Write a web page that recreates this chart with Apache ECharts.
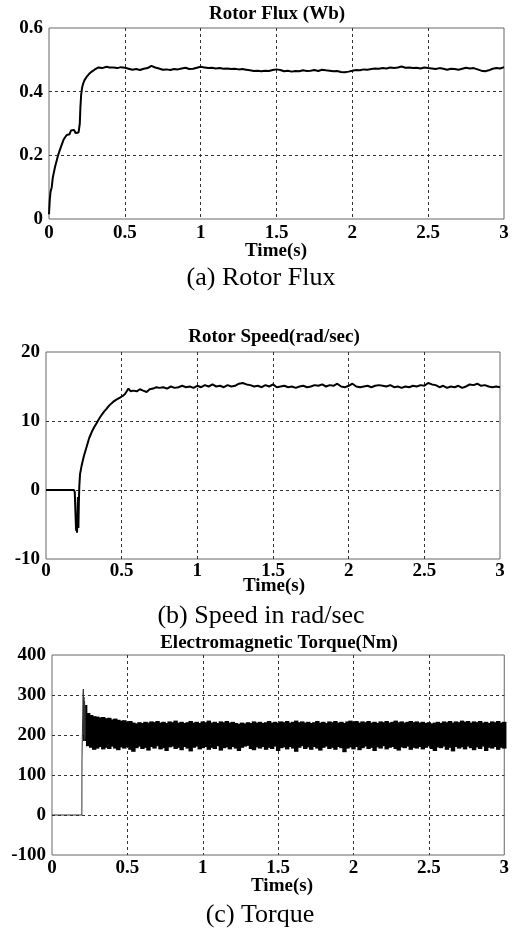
<!DOCTYPE html>
<html>
<head>
<meta charset="utf-8">
<script src="https://cdn.jsdelivr.net/npm/echarts@6/dist/echarts.min.js"></script>
<style>
html,body{margin:0;padding:0;background:#fff;}
#chart{width:512px;height:931px;}
</style>
</head>
<body>
<div id="chart"></div>
<script>
// ---------- DATA ----------
const xTicks = ['0', '0.5', '1', '1.5', '2', '2.5', '3'];

// (a) Rotor flux (Wb)
const fluxT = [0,0.005,0.01,0.018,0.025,0.04,0.05,0.06,0.07,0.08,0.095,0.105,0.117,0.125,0.135,0.145,0.155,0.165,0.175,0.185,0.195,0.2,0.203,0.207,0.212,0.218,0.225,0.235,0.249,0.265,0.282,0.3,0.326,0.35,0.38,0.4,
  0.425,0.45,0.475,0.5,0.525,0.55,0.575,0.6,0.625,0.65,0.675,0.7,0.725,0.75,0.775,0.8,0.825,0.85,0.875,0.9,0.925,0.95,0.975,1.0,
  1.025,1.05,1.075,1.1,1.125,1.15,1.175,1.2,1.225,1.25,1.275,1.3,1.325,1.35,1.375,1.4,1.425,1.45,1.475,1.5,
  1.525,1.55,1.575,1.6,1.625,1.65,1.675,1.7,1.725,1.75,1.775,1.8,1.825,1.85,1.875,1.9,1.925,1.95,1.975,2.0,
  2.025,2.05,2.075,2.1,2.125,2.15,2.175,2.2,2.225,2.25,2.275,2.3,2.325,2.35,2.375,2.4,2.425,2.45,2.475,2.5,
  2.525,2.55,2.575,2.6,2.625,2.65,2.675,2.7,2.725,2.75,2.775,2.8,2.825,2.85,2.875,2.9,2.925,2.95,2.975,3.0];
const fluxV = [0.015,0.06,0.085,0.1,0.13,0.164,0.182,0.2,0.215,0.228,0.248,0.256,0.264,0.27,0.266,0.278,0.274,0.28,0.27,0.268,0.272,0.275,0.3,0.35,0.39,0.412,0.425,0.437,0.447,0.456,0.463,0.469,0.476,0.474,0.478,0.476,
  0.476,0.474,0.477,0.475,0.472,0.469,0.471,0.468,0.472,0.474,0.481,0.476,0.473,0.469,0.47,0.468,0.471,0.47,0.473,0.475,0.471,0.472,0.475,0.478,
  0.476,0.474,0.475,0.473,0.474,0.472,0.473,0.471,0.472,0.47,0.471,0.469,0.467,0.465,0.466,0.464,0.466,0.465,0.468,0.47,
  0.468,0.464,0.466,0.463,0.465,0.464,0.467,0.465,0.466,0.468,0.465,0.469,0.467,0.466,0.464,0.465,0.462,0.461,0.463,0.466,
  0.468,0.467,0.47,0.469,0.471,0.473,0.472,0.474,0.473,0.476,0.474,0.476,0.479,0.475,0.476,0.474,0.475,0.473,0.476,0.474,
  0.473,0.471,0.474,0.472,0.469,0.472,0.471,0.469,0.472,0.475,0.473,0.474,0.47,0.466,0.464,0.467,0.472,0.474,0.473,0.477];

// (b) Rotor speed (rad/sec)
const speedT = [0,0.185,0.19,0.195,0.199,0.202,0.205,0.208,0.211,0.214,0.217,0.22,0.225,0.236,0.25,0.269,0.285,0.302,0.318,0.335,0.35,0.368,0.385,0.401,0.42,0.445,0.465,0.489,0.505,0.522,0.535,0.545,0.56,0.576,0.6,0.62,0.642,0.665,0.685,0.708,0.73,0.75,
  0.775,0.8,0.825,0.85,0.875,0.9,0.925,0.95,0.975,1.0,
  1.025,1.05,1.075,1.1,1.125,1.15,1.175,1.2,1.225,1.25,1.275,1.3,1.325,1.35,1.375,1.4,1.425,1.45,1.475,1.5,
  1.525,1.55,1.575,1.6,1.625,1.65,1.675,1.7,1.725,1.75,1.775,1.8,1.825,1.85,1.875,1.9,1.925,1.95,1.975,2.0,
  2.025,2.05,2.075,2.1,2.125,2.15,2.175,2.2,2.225,2.25,2.275,2.3,2.325,2.35,2.375,2.4,2.425,2.45,2.475,2.5,
  2.525,2.55,2.575,2.6,2.625,2.65,2.675,2.7,2.725,2.75,2.775,2.8,2.825,2.85,2.875,2.9,2.925,2.95,2.975,3.0];
const speedV = [0,0,-0.3,-3.5,-5.9,-4.5,-6.2,-4,-1,-5.5,-2,0.5,2.3,3.6,4.9,6.3,7.5,8.4,9.1,9.7,10.3,10.9,11.4,11.8,12.3,12.8,13.1,13.4,13.6,13.9,14.1,14.7,14.3,14.4,14.3,14.6,14.4,14.2,14.6,14.7,14.9,14.8,
  14.9,14.7,15.0,14.8,14.9,15.1,14.9,15.0,14.8,15.1,
  14.9,15.2,15.0,15.3,15.0,15.1,14.9,15.2,15.0,15.1,15.4,15.5,15.3,15.2,15.0,15.1,14.9,15.2,15.0,15.3,
  14.9,15.0,15.1,14.9,15.0,14.8,15.0,15.1,14.9,15.0,15.2,15.1,15.3,15.0,15.2,15.1,15.4,15.0,14.9,15.1,
  15.4,15.0,14.9,15.0,15.1,14.9,15.1,15.2,15.1,15.0,15.2,14.9,15.0,14.8,15.0,14.9,15.1,15.0,15.2,15.1,
  15.5,15.3,15.2,14.9,15.1,14.8,15.0,14.9,15.1,14.8,15.0,15.3,15.2,15.4,15.1,15.2,15.0,14.9,15.0,14.9];

// (c) Electromagnetic torque (Nm): start-up trace
const torqueStartT = [0,0.198,0.199,0.204,0.206,0.208,0.21,0.212,0.214,0.216,0.218,0.22];
const torqueStartV = [0,0,142,145,300,315,200,295,185,285,190,275];
// (c) ripple band: sample time, lower and upper extreme of the oscillation
const torqueT = [0.22,0.24,0.26,0.28,0.30,0.32,0.34,0.36,0.38,0.40,
  0.42,0.44,0.46,0.48,0.50,0.52,0.54,0.56,0.58,0.60,
  0.62,0.64,0.66,0.68,0.70,0.72,0.74,0.76,0.78,0.80,
  0.82,0.84,0.86,0.88,0.90,0.92,0.94,0.96,0.98,1.00,
  1.02,1.04,1.06,1.08,1.10,1.12,1.14,1.16,1.18,1.20,
  1.22,1.24,1.26,1.28,1.30,1.32,1.34,1.36,1.38,1.40,
  1.42,1.44,1.46,1.48,1.50,1.52,1.54,1.56,1.58,1.60,
  1.62,1.64,1.66,1.68,1.70,1.72,1.74,1.76,1.78,1.80,
  1.82,1.84,1.86,1.88,1.90,1.92,1.94,1.96,1.98,2.00,
  2.02,2.04,2.06,2.08,2.10,2.12,2.14,2.16,2.18,2.20,
  2.22,2.24,2.26,2.28,2.30,2.32,2.34,2.36,2.38,2.40,
  2.42,2.44,2.46,2.48,2.50,2.52,2.54,2.56,2.58,2.60,
  2.62,2.64,2.66,2.68,2.70,2.72,2.74,2.76,2.78,2.80,
  2.82,2.84,2.86,2.88,2.90,2.92,2.94,2.96,2.98,3.00];
const torqueHi = [275,255,250,247,246,244,245,242,243,239,
  241,238,236,237,233,235,231,229,232,230,
  233,231,234,232,235,231,233,230,234,232,
  236,231,233,230,232,235,231,233,230,234,
  232,236,231,233,230,234,232,235,231,233,
  230,228,231,229,232,230,234,231,233,230,
  232,235,231,233,230,234,232,235,231,233,
  236,232,234,231,233,230,232,235,231,233,
  230,234,232,235,231,233,230,234,236,233,
  235,231,234,232,235,231,233,230,234,232,
  235,231,233,236,232,234,231,233,235,232,
  234,231,233,230,232,229,231,233,230,234,
  232,235,231,234,232,236,233,235,231,234,
  232,235,231,233,230,234,232,235,231,233];
const torqueLo = [185,172,168,163,166,170,164,168,165,171,
  166,162,169,166,170,163,158,167,171,165,
  168,161,170,166,172,164,167,160,169,171,
  165,168,162,170,166,159,168,171,164,167,
  170,163,168,165,172,161,167,169,164,170,
  166,160,168,171,173,165,162,169,166,170,
  163,168,165,171,160,167,169,164,170,166,
  158,168,172,165,169,163,170,166,161,168,
  171,165,168,163,170,167,157,166,169,164,
  170,162,167,171,165,168,160,169,166,172,
  164,168,170,165,161,169,167,171,163,168,
  166,170,164,168,172,165,160,169,167,171,
  163,168,159,170,166,169,164,171,167,162,
  169,165,171,160,168,166,170,163,168,166];

const titles = ['Rotor Flux (Wb)', 'Rotor Speed(rad/sec)', 'Electromagnetic Torque(Nm)'];
const captions = ['(a) Rotor Flux', '(b) Speed in rad/sec', '(c) Torque'];
const xName = 'Time(s)';

// ---------- CHART ----------
const zip = (a, b) => a.map((v, i) => [v, b[i]]);
const bandData = torqueT.map((t, i) => [t, torqueLo[i], torqueHi[i]]);

const BOLD = 'bold 19px "Liberation Serif", "Times New Roman", serif';
const CAP = '26px "Liberation Serif", "Times New Roman", serif';

const grids = [
  {left: 49, right: 8, top: 28, height: 191},
  {left: 46, right: 12, top: 352, height: 207},
  {left: 52, right: 5, top: 655, height: 200}
];
const xMargins = [5, 3, 4];
const yRanges = [[0, 0.6, 0.2], [-10, 20, 10], [-100, 400, 100]];

const gridLine = {show: true, showMinLine: false, showMaxLine: false, lineStyle: {color: '#333', width: 1, type: [3, 3]}};
const labelStyle = {fontFamily: '"Liberation Serif", "Times New Roman", serif', fontWeight: 'bold', fontSize: 19, color: '#000'};

const option = {
  animation: false,
  backgroundColor: '#fff',
  grid: grids.map(g => Object.assign({show: true, borderColor: '#666', borderWidth: 1, backgroundColor: 'transparent'}, g)),
  xAxis: grids.map((g, i) => ({
    gridIndex: i, type: 'value', min: 0, max: 3, interval: 0.5,
    axisLine: {show: false}, axisTick: {show: false},
    splitLine: gridLine,
    axisLabel: Object.assign({margin: xMargins[i], showMinLabel: true, showMaxLabel: true,
      formatter: v => xTicks[Math.round(v * 2)]}, labelStyle)
  })),
  yAxis: grids.map((g, i) => ({
    gridIndex: i, type: 'value', min: yRanges[i][0], max: yRanges[i][1], interval: yRanges[i][2],
    axisLine: {show: false}, axisTick: {show: false},
    splitLine: gridLine,
    axisLabel: Object.assign({margin: 6, showMinLabel: true, showMaxLabel: true,
      formatter: v => String(Math.round(v * 10) / 10)}, labelStyle)
  })),
  series: [
    {type: 'line', xAxisIndex: 0, yAxisIndex: 0, data: zip(fluxT, fluxV), showSymbol: false,
      lineStyle: {color: '#000', width: 2}, z: 5},
    {type: 'line', xAxisIndex: 1, yAxisIndex: 1, data: zip(speedT, speedV), showSymbol: false,
      lineStyle: {color: '#000', width: 2}, z: 5},
    {type: 'line', xAxisIndex: 2, yAxisIndex: 2, data: zip(torqueStartT, torqueStartV), showSymbol: false,
      lineStyle: {color: '#333', width: 1}, z: 5},
    {type: 'custom', xAxisIndex: 2, yAxisIndex: 2, data: bandData, z: 5,
      encode: {x: 0, y: [1, 2]},
      renderItem: function (params, api) {
        const p1 = api.coord([api.value(0), api.value(1)]);
        const p2 = api.coord([api.value(0), api.value(2)]);
        return {type: 'line', shape: {x1: p1[0], y1: p1[1], x2: p2[0], y2: p2[1]},
          style: {stroke: '#000', lineWidth: 4.4}};
      }}
  ],
  graphic: [
    {type: 'text', style: {text: titles[0], x: 277, y: 14, font: BOLD, fill: '#000', textAlign: 'center', textVerticalAlign: 'middle'}},
    {type: 'text', style: {text: titles[1], x: 274, y: 337, font: BOLD, fill: '#000', textAlign: 'center', textVerticalAlign: 'middle'}},
    {type: 'text', style: {text: titles[2], x: 279, y: 643, font: BOLD, fill: '#000', textAlign: 'center', textVerticalAlign: 'middle'}},
    {type: 'text', style: {text: xName, x: 276, y: 251, font: BOLD, fill: '#000', textAlign: 'center', textVerticalAlign: 'middle'}},
    {type: 'text', style: {text: xName, x: 274, y: 586, font: BOLD, fill: '#000', textAlign: 'center', textVerticalAlign: 'middle'}},
    {type: 'text', style: {text: xName, x: 282, y: 886, font: BOLD, fill: '#000', textAlign: 'center', textVerticalAlign: 'middle'}},
    {type: 'text', style: {text: captions[0], x: 261, y: 278, font: CAP, fill: '#000', textAlign: 'center', textVerticalAlign: 'middle'}},
    {type: 'text', style: {text: captions[1], x: 261, y: 616, font: CAP, fill: '#000', textAlign: 'center', textVerticalAlign: 'middle'}},
    {type: 'text', style: {text: captions[2], x: 260, y: 915, font: CAP, fill: '#000', textAlign: 'center', textVerticalAlign: 'middle'}}
  ]
};

const chart = echarts.init(document.getElementById('chart'), null, {renderer: 'canvas'});
chart.setOption(option);
</script>
</body>
</html>
